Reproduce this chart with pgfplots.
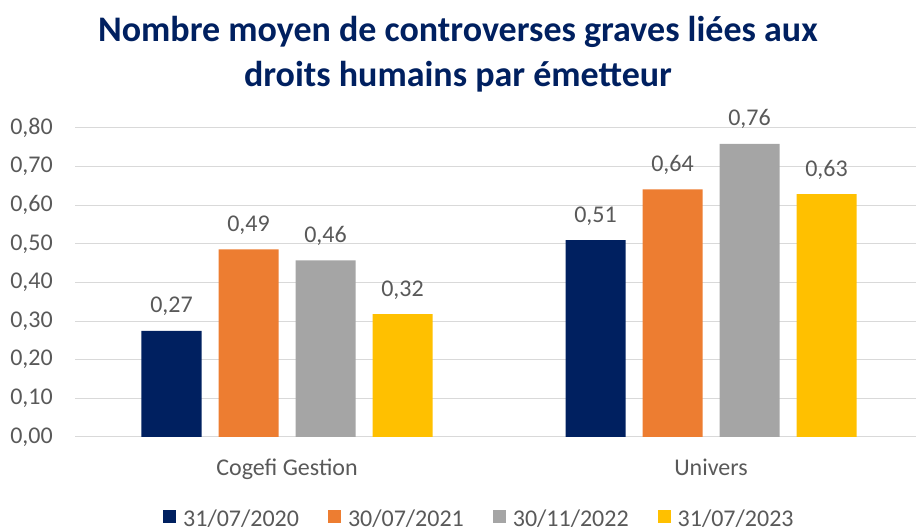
\documentclass[border=0pt]{standalone}
\usepackage{pgfplots}
\pgfplotsset{compat=1.18}
\usepackage{fontspec}
\setmainfont{Carlito}
\definecolor{navy}{HTML}{002060}
\definecolor{orangeb}{HTML}{ED7D31}
\definecolor{grayb}{HTML}{A5A5A5}
\definecolor{goldb}{HTML}{FFC000}
\definecolor{titleblue}{HTML}{002060}
\definecolor{textgray}{HTML}{595959}
\definecolor{gridgray}{HTML}{D9D9D9}
\begin{document}
\begin{tikzpicture}[x=1pt,y=1pt]
\useasboundingbox (0,0) rectangle (916,532);
\node[anchor=base, font=\fontsize{36}{40}\selectfont\bfseries, text=titleblue, inner sep=0pt] at (458,490) {Nombre moyen de controverses graves liées aux};
\node[anchor=base, font=\fontsize{36}{40}\selectfont\bfseries, text=titleblue, inner sep=0pt] at (458,445) {droits humains par émetteur};
\begin{axis}[
  at={(75pt,95pt)}, anchor=south west,
  scale only axis, width=841pt, height=309pt,
  xmin=-0.5, xmax=1.4835, ymin=0, ymax=0.8,
  clip=false,
  ybar=17pt, bar width=60pt,
  xtick={0,1}, xticklabels={Cogefi Gestion, Univers},
  ytick={0,0.1,0.2,0.3,0.4,0.5,0.6,0.7,0.8},
  ymajorgrids, grid style={draw=gridgray, line width=1pt},
  axis line style={draw=none}, major tick length=0pt,
  tick label style={font=\fontsize{24}{28}\selectfont, text=textgray},
  /pgf/number format/assume math mode=true,
  yticklabel={\pgfmathprintnumber[fixed, fixed zerofill, precision=2, use comma]{\tick}},
  yticklabel style={anchor=east, inner sep=0pt, xshift=-22pt},
  xticklabel style={anchor=base, inner sep=0pt, yshift=-39pt},
  point meta=explicit symbolic,
  nodes near coords,
  every node near coord/.append style={anchor=base, inner sep=0pt, yshift=18pt, font=\fontsize{24}{28}\selectfont, text=textgray},
  legend columns=4,
  legend image code/.code={\path[#1,draw=none] (0pt,-4pt) rectangle (13pt,9pt);},
  legend style={at={(0.1046,-0.2653)}, anchor=west, draw=none, fill=none,
    font=\fontsize{24}{28}\selectfont, text=textgray, inner sep=0pt,
    nodes={inner sep=0pt},
    column sep=7pt, /tikz/every even column/.append style={column sep=29pt}},
]
\addplot[fill=navy, draw=none] coordinates {(0,0.275) [0,27] (1,0.510) [0,51]};
\addplot[fill=orangeb, draw=none] coordinates {(0,0.486) [0,49] (1,0.641) [0,64]};
\addplot[fill=grayb, draw=none] coordinates {(0,0.457) [0,46] (1,0.759) [0,76]};
\addplot[fill=goldb, draw=none] coordinates {(0,0.318) [0,32] (1,0.629) [0,63]};
\legend{31/07/2020, 30/07/2021, 30/11/2022, 31/07/2023}
\end{axis}
\end{tikzpicture}
\end{document}
